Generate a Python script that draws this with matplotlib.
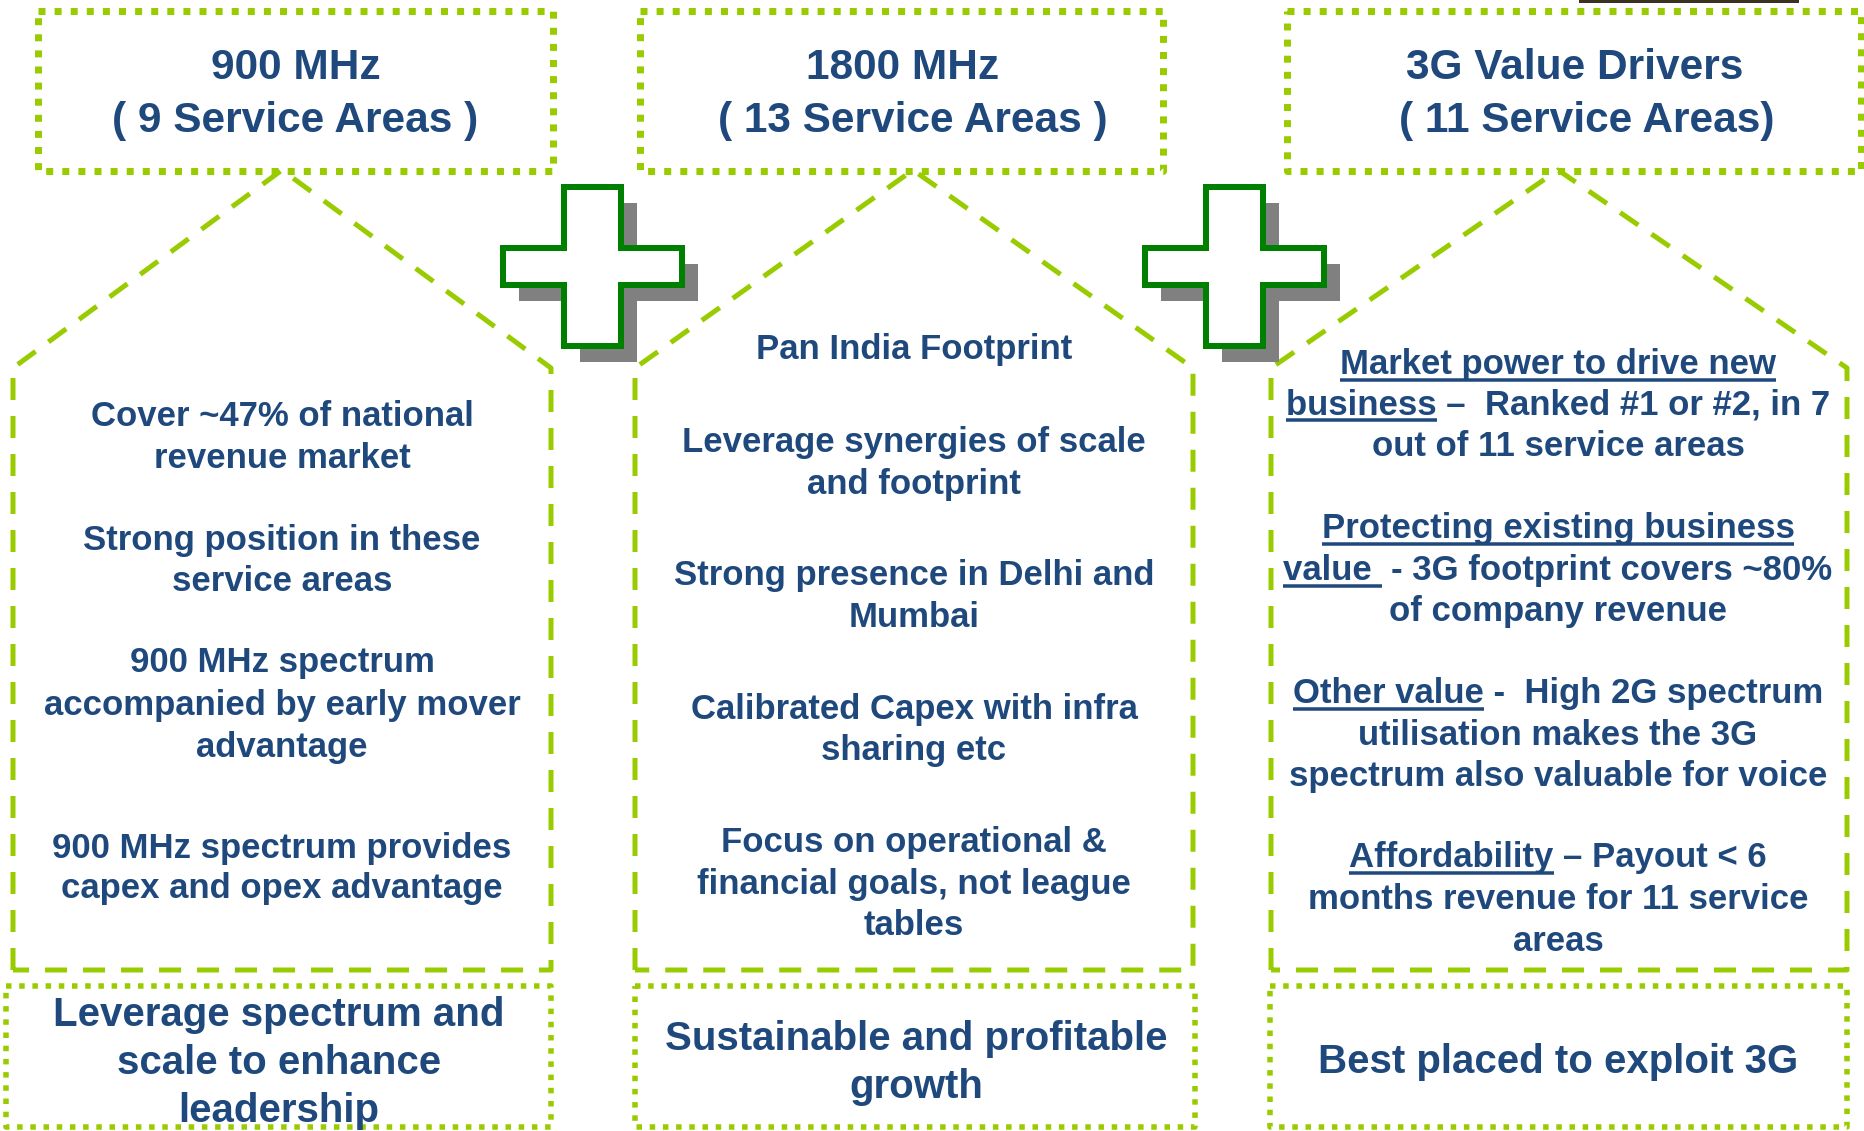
import matplotlib
matplotlib.use("Agg")
import matplotlib.pyplot as plt
from matplotlib.patches import Polygon
from matplotlib.lines import Line2D

# ---------------- content ----------------
title_lines = [
    ["900 MHz", "( 9 Service Areas )"],
    ["1800 MHz", "( 13 Service Areas )"],
    ["3G Value Drivers", "( 11 Service Areas)"],
]
col1_lines = ["Cover ~47% of national", "revenue market",
              "Strong position in these", "service areas",
              "900 MHz spectrum", "accompanied by early mover", "advantage",
              "900 MHz spectrum provides", "capex and opex advantage"]
col2_lines = ["Pan India Footprint",
              "Leverage synergies of scale", "and footprint",
              "Strong presence in Delhi and", "Mumbai",
              "Calibrated Capex with infra", "sharing etc",
              "Focus on operational &", "financial goals, not league", "tables"]
col3_lines = ["Market power to drive new",
              "business \u2013  Ranked #1 or #2, in 7",
              "out of 11 service areas",
              "Protecting existing business",
              "value  - 3G footprint covers ~80%",
              "of company revenue",
              "Other value -  High 2G spectrum",
              "utilisation makes the 3G",
              "spectrum also valuable for voice",
              "Affordability \u2013 Payout < 6",
              "months revenue for 11 service",
              "areas"]
col3_underline = ["Market power to drive new", "business", "",
                  "Protecting existing business", "value ", "",
                  "Other value", "", "",
                  "Affordability", "", ""]
bottom_lines = [
    ["Leverage spectrum and", "scale to enhance", "leadership"],
    ["Sustainable and profitable", "growth"],
    ["Best placed to exploit 3G"],
]

# ---------------- layout (pixels) ----------------
W, H = 1865, 1131
GREEN = "#99CC00"
BLUE = "#1F497D"
PGREEN = "#008000"
GREY = "#808080"
FONT = ["Liberation Sans", "DejaVu Sans"]

title_fs, body_fs, bottom_fs = 30.5, 25, 29
title_x = [[296, 295], [903, 913], [1575, 1587]]
title_y = [65, 118]
col_x = [282, 914, 1558]
col1_y = [415, 457, 539, 580, 661, 704, 746, 847, 887]
col2_y = [348, 441, 483, 574, 616, 708, 749, 841, 883, 924]
col3_y = [363, 403, 445, 527, 569, 610, 692, 734, 775, 856, 898, 940]
bottom_x = [279, 916, 1558]
bottom_y = [[1013, 1061, 1109], [1037, 1085], [1060]]

top_boxes = [(38, 11, 553, 171), (640, 11, 1163, 171), (1287, 11, 1861, 171)]
houses = [(13, 551, 282), (635, 1193, 913), (1271, 1847, 1558)]
peak_y, shoulder_y, house_bottom = 170, 368, 970
bottom_boxes = [(6, 986, 551, 1127), (635, 986, 1195, 1127), (1270, 986, 1847, 1127)]
plus_offsets = [0, 642]

fig = plt.figure(figsize=(W / 100, H / 100), dpi=100)
ax = fig.add_axes([0, 0, 1, 1])
ax.set_xlim(0, W)
ax.set_ylim(H, 0)
ax.axis("off")

px = 72 / 100  # points per pixel


def dotted_rect(x0, y0, x1, y1, lw_px, gap):
    ax.add_line(Line2D([x0, x1, x1, x0, x0], [y0, y0, y1, y1, y0],
                       color=GREEN, lw=lw_px * px, linestyle=(0, (1, gap)),
                       dash_capstyle="butt", solid_joinstyle="miter", zorder=2))


for b in top_boxes:
    dotted_rect(*b, 7, 1.3)
for b in bottom_boxes:
    dotted_rect(*b, 5.5, 1.4)

for (xl, xr, xp) in houses:
    ax.add_line(Line2D([xl, xl, xp, xr, xr, xl],
                       [house_bottom, shoulder_y, peak_y, shoulder_y, house_bottom, house_bottom],
                       color=GREEN, lw=5 * px, linestyle=(0, (4.4, 3.2)),
                       dash_capstyle="butt", zorder=2))

# plus signs
x0, x1, y0, y1 = 503, 682, 187, 346
a0, a1, b0, b1 = 564, 621, 248, 285
for dx in plus_offsets:
    xs = [a0, a1, a1, x1, x1, a1, a1, a0, a0, x0, x0, a0]
    ys = [y0, y0, b0, b0, b1, b1, y1, y1, b1, b1, b0, b0]
    pts = [(x + dx, y) for x, y in zip(xs, ys)]
    sh = [(x + 16, y + 16) for x, y in pts]
    ax.add_patch(Polygon(sh, closed=True, facecolor=GREY, edgecolor="none", zorder=3))
    ax.add_patch(Polygon(pts, closed=True, facecolor="white", edgecolor=PGREEN,
                         lw=6 * px, joinstyle="miter", zorder=4))

# top-right cropped artefact
ax.add_line(Line2D([1580, 1797], [1, 1], color="#3b3322", lw=3 * px, zorder=5))


def put(x, yc, s, fs):
    em = fs / px
    return ax.text(x, yc + 0.33 * em, s, fontsize=fs, fontweight="bold", color=BLUE,
                   ha="center", va="baseline", family=FONT, zorder=6)


for i, lines in enumerate(title_lines):
    for j, s in enumerate(lines):
        put(title_x[i][j], title_y[j], s, title_fs)

for s, y in zip(col1_lines, col1_y):
    put(col_x[0], y, s, body_fs)
for s, y in zip(col2_lines, col2_y):
    put(col_x[1], y, s, body_fs)
col3_texts = []
for s, y in zip(col3_lines, col3_y):
    col3_texts.append(put(col_x[2], y, s, body_fs))

for i, lines in enumerate(bottom_lines):
    for j, s in enumerate(lines):
        put(bottom_x[i], bottom_y[i][j], s, bottom_fs)

# underlines
fig.canvas.draw()
r = fig.canvas.get_renderer()


def width_of(s):
    t = ax.text(0, 0, s, fontsize=body_fs, fontweight="bold", family=FONT)
    w = t.get_window_extent(r).width
    t.remove()
    return w


space_w = width_of("a a") - width_of("aa")
for t, pre, y in zip(col3_texts, col3_underline, col3_y):
    if not pre:
        continue
    bb = t.get_window_extent(r)
    left = bb.x0
    core = pre.rstrip()
    w = width_of(core) + space_w * (len(pre) - len(core))
    base = y + 0.33 * body_fs / px
    ax.add_line(Line2D([left, left + w], [base + 6, base + 6], color=BLUE,
                       lw=3.5 * px, solid_capstyle="butt", zorder=6))

fig.savefig("out.png", dpi=100, facecolor="white")
